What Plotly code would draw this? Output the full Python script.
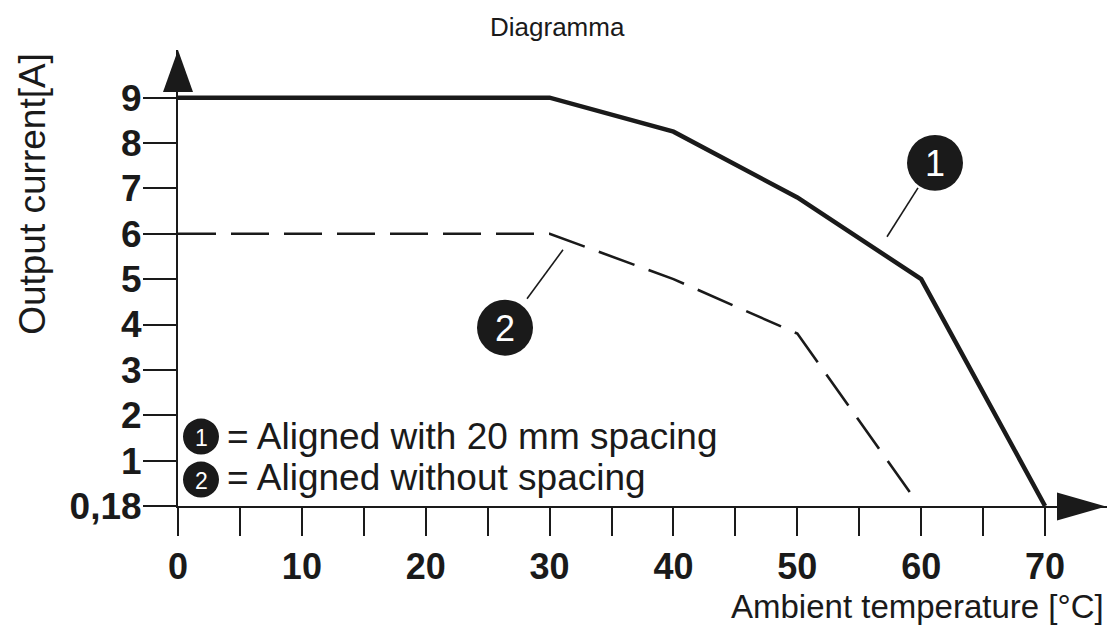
import plotly.graph_objects as go

# ---- data ----
temp_aligned_20mm = [0, 30, 40, 50, 60, 70]
current_aligned_20mm = [9, 9, 8.25, 6.8, 5, 0]
temp_no_spacing = [0, 30, 40, 50, 59.1]
current_no_spacing = [6, 6, 5, 3.8, 0.3]
y_tickvals = [0, 1, 2, 3, 4, 5, 6, 7, 8, 9]
y_ticktext = ["0,18", "1", "2", "3", "4", "5", "6", "7", "8", "9"]
x_tickvals = [0, 5, 10, 15, 20, 25, 30, 35, 40, 45, 50, 55, 60, 65, 70]
x_ticktext = ["0", "", "10", "", "20", "", "30", "", "40", "", "50", "", "60", "", "70"]

# page body has an 8px default margin; work in screen pixels and convert
OFF = 8
W, H = 1115 - OFF, 636 - OFF
# screen-pixel plot area
SX0, SX1 = 178, 1107
SY0, SY1 = 50, 506.5
ML, MR = SX0 - OFF, W - (SX1 - OFF)
MT, MB = SY0 - OFF, H - (SY1 - OFF)
XR = [0, 75]
YR = [0, 10.05]
PW = SX1 - SX0
PH = SY1 - SY0

def px(x):  # screen pixel -> paper x
    return (x - SX0) / PW

def py(y):  # screen pixel -> paper y
    return (SY1 - y) / PH

def dx(x):  # screen pixel -> data x
    return XR[0] + px(x) * (XR[1] - XR[0])

def dy(y):  # screen pixel -> data y
    return YR[0] + py(y) * (YR[1] - YR[0])

FONT = "Liberation Sans, Arial, Helvetica, sans-serif"
INK = "#1a1a1a"

fig = go.Figure()
fig.add_trace(go.Scatter(x=temp_aligned_20mm, y=current_aligned_20mm, mode="lines",
                         line=dict(color=INK, width=4.5), showlegend=False,
                         cliponaxis=False))
fig.add_trace(go.Scatter(x=temp_no_spacing, y=current_no_spacing, mode="lines",
                         line=dict(color=INK, width=2.6, dash="38px,15px"),
                         showlegend=False, cliponaxis=False))

shapes = []
# axis arrows
shapes.append(dict(type="path", xref="paper", yref="paper",
                   path=f"M {px(178)} {py(50)} L {px(163)} {py(92)} L {px(193)} {py(92)} Z",
                   fillcolor=INK, line=dict(width=0)))
shapes.append(dict(type="path", xref="paper", yref="paper",
                   path=f"M {px(1106)} {py(507)} L {px(1057)} {py(493)} L {px(1057)} {py(521)} Z",
                   fillcolor=INK, line=dict(width=0)))

def circle(cx, cy, r):
    return dict(type="circle", xref="x", yref="y",
                x0=dx(cx - r), x1=dx(cx + r), y0=dy(cy + r), y1=dy(cy - r),
                fillcolor=INK, line=dict(width=0))

shapes.append(circle(935, 163, 28))
shapes.append(circle(505, 328, 28))
shapes.append(circle(201, 437, 18))
shapes.append(circle(201, 480, 18))
# leader lines
shapes.append(dict(type="line", xref="x", yref="y", x0=dx(918), y0=dy(188), x1=dx(887), y1=dy(237),
                   line=dict(color=INK, width=1.6)))
shapes.append(dict(type="line", xref="x", yref="y", x0=dx(563), y0=dy(250), x1=dx(527), y1=dy(299),
                   line=dict(color=INK, width=1.6)))

annotations = []
def num(cx, cy, t, size):
    annotations.append(dict(x=dx(cx), y=dy(cy), xref="x", yref="y", text=t, showarrow=False,
                            xanchor="center", yanchor="middle",
                            font=dict(family=FONT, size=size, color="white")))

num(935, 164, "1", 36)
num(505, 329, "2", 36)
num(201, 438, "1", 23)
num(201, 481, "2", 23)

annotations.append(dict(x=dx(225), y=dy(437), xref="x", yref="y", text="= Aligned with 20 mm spacing",
                        showarrow=False, xanchor="left", yanchor="middle",
                        font=dict(family=FONT, size=37, color=INK)))
annotations.append(dict(x=dx(225), y=dy(478), xref="x", yref="y", text="= Aligned without spacing",
                        showarrow=False, xanchor="left", yanchor="middle",
                        font=dict(family=FONT, size=37, color=INK)))
# axis titles
annotations.append(dict(x=px(33), y=py(194), xref="paper", yref="paper", text="Output current[A]",
                        showarrow=False, textangle=-90, xanchor="center", yanchor="middle",
                        font=dict(family=FONT, size=37, color=INK)))
annotations.append(dict(x=px(1106), y=py(607), xref="paper", yref="paper", text="Ambient temperature [°C]",
                        showarrow=False, xanchor="right", yanchor="middle",
                        font=dict(family=FONT, size=33, color=INK)))
annotations.append(dict(x=px(557), y=py(27), xref="paper", yref="paper", text="Diagramma",
                        showarrow=False, xanchor="center", yanchor="middle",
                        font=dict(family=FONT, size=26, color=INK)))

fig.update_layout(
    width=W, height=H,
    margin=dict(l=ML, r=MR, t=MT, b=MB, pad=0),
    paper_bgcolor="white", plot_bgcolor="white",
    xaxis=dict(range=XR, showgrid=False, zeroline=False, showline=True, linecolor=INK,
               linewidth=2, ticks="outside", ticklen=28, tickwidth=2, tickcolor=INK,
               tickvals=x_tickvals, ticktext=x_ticktext,
               tickfont=dict(family=FONT, size=36, color=INK, weight="bold"),
               fixedrange=True),
    yaxis=dict(range=YR, showgrid=False, zeroline=False, showline=True, linecolor=INK,
               linewidth=2, ticks="outside", ticklen=33, tickwidth=2, tickcolor=INK,
               tickvals=y_tickvals, ticktext=y_ticktext, ticklabelstandoff=-6,
               tickfont=dict(family=FONT, size=37, color=INK, weight="bold"),
               fixedrange=True),
    shapes=shapes, annotations=annotations,
)

fig.write_html("out.html")
